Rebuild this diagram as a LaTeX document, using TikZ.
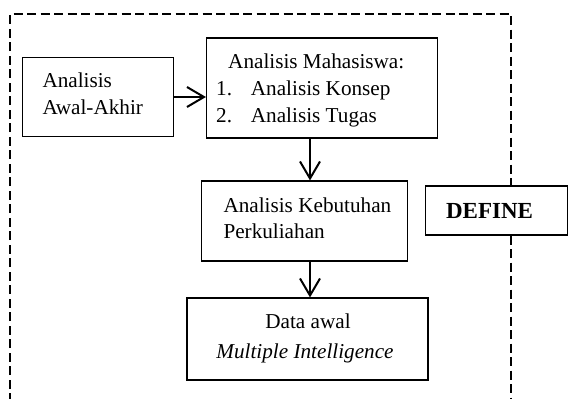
\documentclass[tikz,border=0pt]{standalone}
\usepackage{fontspec}
\setmainfont{Liberation Serif}
\usetikzlibrary{arrows.meta}
\begin{document}
\begin{tikzpicture}[x=1pt,y=-1pt,
  box/.style={draw,line width=1.1pt,minimum width=#1,inner sep=0pt},
  txt/.style={anchor=base west,inner sep=0pt,font=\fontsize{21.2}{25}\selectfont},
  flow/.style={line width=2pt,-{Straight Barb[length=17pt,width=20pt]}},
  frame/.style={line width=2pt,dash pattern=on 9pt off 4.5pt}]
\useasboundingbox (0,0) rectangle (568,399);
% boxes
\node[box=151pt,minimum height=79pt] (awal) at (97.7,97) {};
\node[box=231pt,minimum height=100pt] (mhs) at (322,88) {};
\node[box=206pt,minimum height=80pt] (kebut) at (304.7,221) {};
\node[box=241pt,minimum height=82pt] (data) at (307.5,339) {};
\node[box=142pt,minimum height=49pt] (define) at (496.5,210.5) {};
% texts
\node[txt] (t1) at (42.3,87.3) {Analisis};
\node[txt] (t2) at (42.3,114) {Awal-Akhir};
\node[txt] (t3) at (228,68.3) {Analisis Mahasiswa:};
\node[txt] (t4) at (216,95.7) {1.};
\node[txt] (t5) at (250.7,95.7) {Analisis Konsep};
\node[txt] (t6) at (216,122.5) {2.};
\node[txt] (t7) at (250.7,122.5) {Analisis Tugas};
\node[txt] (t8) at (223.3,212.3) {Analisis Kebutuhan};
\node[txt] (t9) at (223.3,238.5) {Perkuliahan};
\node[txt,anchor=base] (t10) at (308,328.3) {Data awal};
\node[txt,anchor=base] (t11) at (305,358.5) {\itshape Multiple Intelligence};
\node[txt,anchor=base,font=\fontsize{23}{27}\selectfont\bfseries] (t12) at (489.5,218) {DEFINE};
% connectors
\draw[flow] (awal.east) -- (mhs.west |- awal.east);
\draw[flow] (mhs.south -| 310,0) -- (kebut.north -| 310,0);
\draw[flow] (kebut.south -| 310,0) -- (data.north -| 310,0);
% dashed frame
\coordinate (fbl) at (10,402);
\coordinate (ftl) at (10,14);
\coordinate (ftr) at (511,14);
\coordinate (fbr) at (511,402);
\draw[frame] (fbl) -- (ftl) -- (ftr) -- (define.north -| ftr);
\draw[frame] (define.south -| ftr) -- (fbr);
\end{tikzpicture}
\end{document}
